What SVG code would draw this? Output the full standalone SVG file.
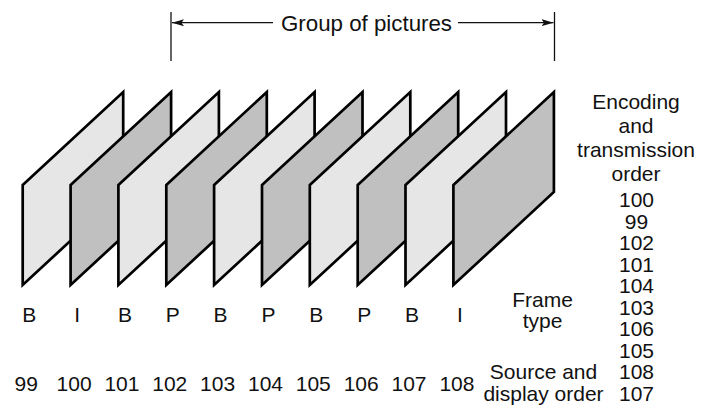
<svg xmlns="http://www.w3.org/2000/svg" width="704" height="405" viewBox="0 0 704 405">
  <style>
    text { font-family: "Liberation Sans", Arial, sans-serif; font-size: 21px; fill: #111; }
    .mid { text-anchor: middle; }
    .frame { stroke: #000; stroke-width: 2.7; stroke-linejoin: miter; }
    .light { fill: #e6e6e6; }
    .dark { fill: #c0c0c0; }
    .dim { stroke: #111; stroke-width: 1.3; fill: none; }
  </style>
  <defs>
    <marker id="head" viewBox="0 0 12 8" refX="12" refY="4" markerWidth="12" markerHeight="8" markerUnits="userSpaceOnUse" orient="auto-start-reverse">
      <path d="M0,0.5 L12,4 L0,7.5 L2.5,4 Z" fill="#111"/>
    </marker>
  </defs>

  <rect width="704" height="405" fill="#fff"/>

  <!-- dimension line spanning the group of pictures -->
  <g id="connectors">
    <line class="dim" x1="171" y1="12" x2="171" y2="61"/>
    <line class="dim" x1="554.5" y1="12" x2="554.5" y2="61"/>
    <line class="dim" x1="273" y1="22.7" x2="172" y2="22.7" marker-end="url(#head)"/>
    <line class="dim" x1="458" y1="22.7" x2="553.5" y2="22.7" marker-end="url(#head)"/>
  </g>
  <text id="gop-label" class="mid" x="366.5" y="30.5" style="font-size:22.3px">Group of pictures</text>

  <!-- frames, drawn back to front -->
  <g id="frame-99"><polygon class="frame light" points="22.7,185 123.2,92 123.2,192 22.7,285"/></g>
  <g id="frame-100"><polygon class="frame dark" points="70.6,185 171.1,92 171.1,192 70.6,285"/></g>
  <g id="frame-101"><polygon class="frame light" points="118.4,185 218.9,92 218.9,192 118.4,285"/></g>
  <g id="frame-102"><polygon class="frame dark" points="166.3,185 266.8,92 266.8,192 166.3,285"/></g>
  <g id="frame-103"><polygon class="frame light" points="214.1,185 314.6,92 314.6,192 214.1,285"/></g>
  <g id="frame-104"><polygon class="frame dark" points="262,185 362.5,92 362.5,192 262,285"/></g>
  <g id="frame-105"><polygon class="frame light" points="309.8,185 410.3,92 410.3,192 309.8,285"/></g>
  <g id="frame-106"><polygon class="frame dark" points="357.7,185 458.2,92 458.2,192 357.7,285"/></g>
  <g id="frame-107"><polygon class="frame light" points="405.5,185 506,92 506,192 405.5,285"/></g>
  <g id="frame-108"><polygon class="frame dark" points="453.4,185 553.9,92 553.9,192 453.4,285"/></g>

  <!-- frame types -->
  <g id="frame-types">
    <text class="mid" x="29.2" y="322">B</text>
    <text class="mid" x="77.1" y="322">I</text>
    <text class="mid" x="124.9" y="322">B</text>
    <text class="mid" x="172.8" y="322">P</text>
    <text class="mid" x="220.6" y="322">B</text>
    <text class="mid" x="268.5" y="322">P</text>
    <text class="mid" x="316.3" y="322">B</text>
    <text class="mid" x="364.2" y="322">P</text>
    <text class="mid" x="412" y="322">B</text>
    <text class="mid" x="459.9" y="322">I</text>
  </g>

  <!-- source and display order -->
  <g id="display-order">
    <text class="mid" x="26.2" y="390.5">99</text>
    <text class="mid" x="74.1" y="390.5">100</text>
    <text class="mid" x="121.9" y="390.5">101</text>
    <text class="mid" x="169.8" y="390.5">102</text>
    <text class="mid" x="217.6" y="390.5">103</text>
    <text class="mid" x="265.5" y="390.5">104</text>
    <text class="mid" x="313.3" y="390.5">105</text>
    <text class="mid" x="361.2" y="390.5">106</text>
    <text class="mid" x="409" y="390.5">107</text>
    <text class="mid" x="456.9" y="390.5">108</text>
  </g>

  <!-- row captions -->
  <g id="captions">
    <text class="mid" x="542.5" y="306.5">Frame</text>
    <text class="mid" x="542.5" y="327.5">type</text>
    <text class="mid" x="543.5" y="378.8">Source and</text>
    <text class="mid" x="543.5" y="400.5">display order</text>
  </g>

  <!-- encoding and transmission order -->
  <g id="encoding-order">
    <text class="mid" x="636" y="109">Encoding</text>
    <text class="mid" x="636" y="132.5">and</text>
    <text class="mid" x="636" y="156.5">transmission</text>
    <text class="mid" x="636" y="180.5">order</text>
    <text class="mid" x="636.5" y="207">100</text>
    <text class="mid" x="636.5" y="228.5">99</text>
    <text class="mid" x="636.5" y="250">102</text>
    <text class="mid" x="636.5" y="271.5">101</text>
    <text class="mid" x="636.5" y="293">104</text>
    <text class="mid" x="636.5" y="314.5">103</text>
    <text class="mid" x="636.5" y="336">106</text>
    <text class="mid" x="636.5" y="357.5">105</text>
    <text class="mid" x="636.5" y="379">108</text>
    <text class="mid" x="636.5" y="400.5">107</text>
  </g>
</svg>
